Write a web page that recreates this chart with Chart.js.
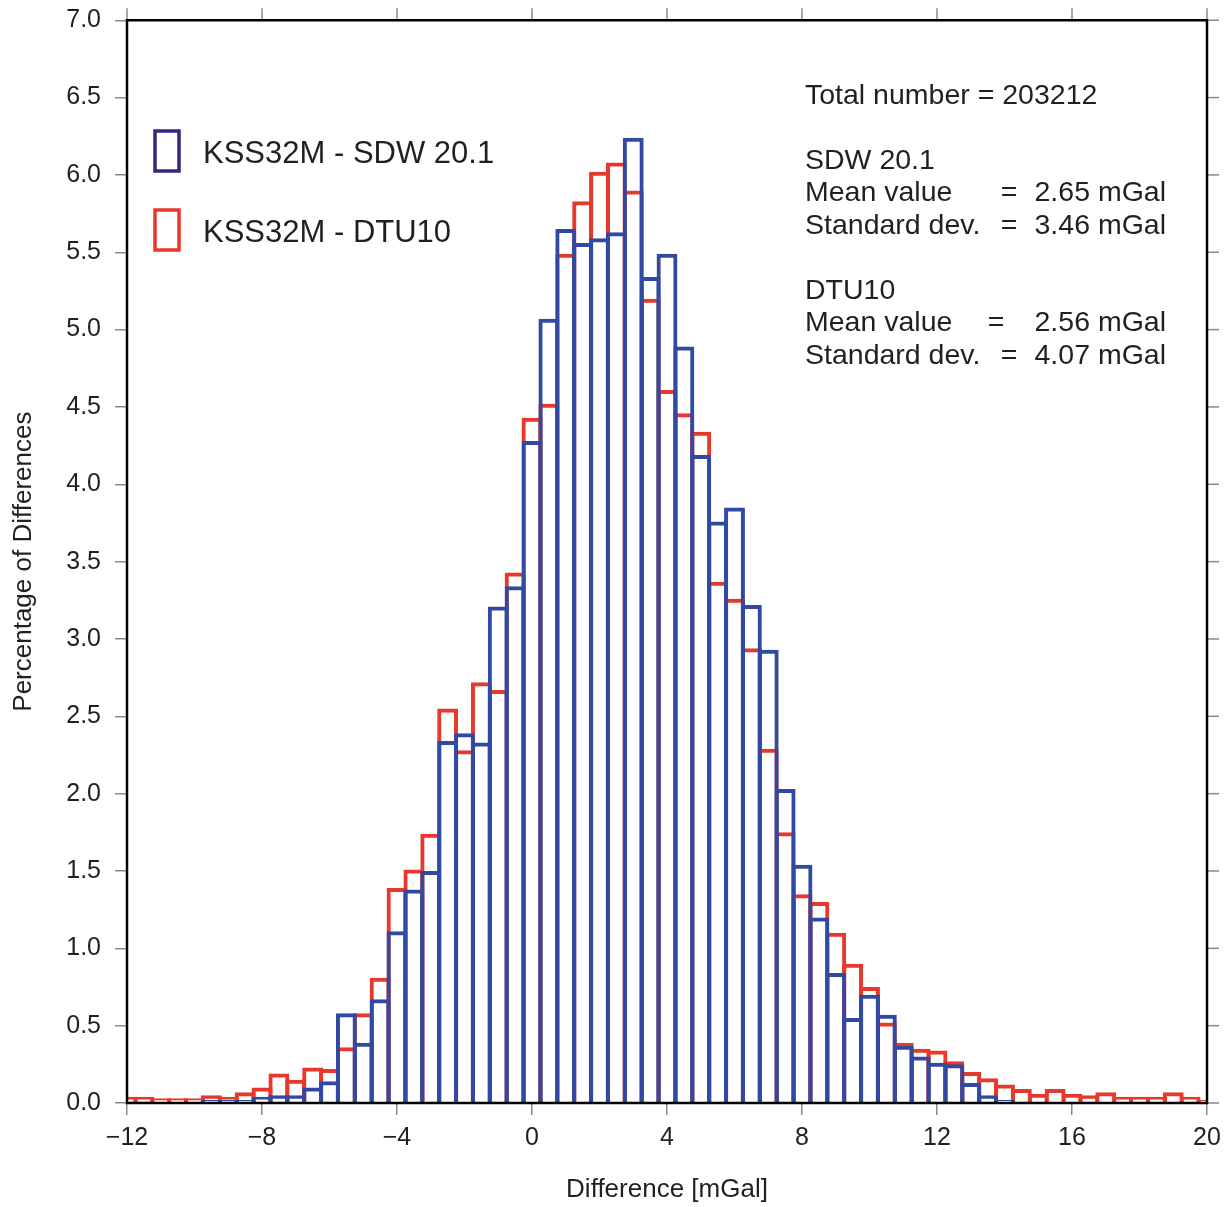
<!DOCTYPE html>
<html>
<head>
<meta charset="utf-8">
<title>KSS32M differences histogram</title>
<script src="https://cdn.jsdelivr.net/npm/chart.js@4.4.1/dist/chart.umd.min.js"></script>
<style>
    html, body { margin: 0; padding: 0; background: #ffffff; }
    #wrap { position: absolute; left: 0; top: 0; width: 1231px; height: 1207px; }
</style>
</head>
<body>
<div id="wrap"><canvas id="histChart" width="1231" height="1207"></canvas></div>
<script>
// ============================================
// DATA - bin centres (mGal) and percentages
// ============================================
const binCenters = [
    -12, -11.5, -11, -10.5, -10, -9.5, -9, -8.5, -8, -7.5, -7, -6.5, -6, -5.5, -5, -4.5,
    -4, -3.5, -3, -2.5, -2, -1.5, -1, -0.5, 0, 0.5, 1, 1.5, 2, 2.5, 3, 3.5,
    4, 4.5, 5, 5.5, 6, 6.5, 7, 7.5, 8, 8.5, 9, 9.5, 10, 10.5, 11, 11.5,
    12, 12.5, 13, 13.5, 14, 14.5, 15, 15.5, 16, 16.5, 17, 17.5, 18, 18.5, 19, 19.5, 20
];

// KSS32M - SDW 20.1
const sdwPercent = [
    0.01, 0.01, 0.00, 0.00, 0.00, 0.02, 0.02, 0.02, 0.04, 0.05, 0.05, 0.10, 0.14, 0.58, 0.39, 0.67,
    1.11, 1.38, 1.50, 2.34, 2.39, 2.33, 3.21, 3.34, 4.28, 5.07, 5.65, 5.56, 5.59, 5.63, 6.24, 5.34,
    5.49, 4.89, 4.19, 3.76, 3.85, 3.22, 2.93, 2.03, 1.54, 1.20, 0.84, 0.55, 0.70, 0.57, 0.37, 0.30,
    0.26, 0.25, 0.13, 0.05, 0.02, 0.00, 0.00, 0.00, 0.00, 0.00, 0.00, 0.00, 0.00, 0.00, 0.00, 0.00, 0.00
];

// KSS32M - DTU10
const dtuPercent = [
    0.04, 0.04, 0.03, 0.03, 0.03, 0.05, 0.04, 0.07, 0.10, 0.19, 0.15, 0.23, 0.22, 0.36, 0.58, 0.81,
    1.39, 1.51, 1.74, 2.55, 2.28, 2.72, 2.67, 3.43, 4.43, 4.52, 5.49, 5.83, 6.02, 6.08, 5.90, 5.20,
    4.61, 4.46, 4.34, 3.37, 3.26, 2.94, 2.29, 1.75, 1.35, 1.30, 1.10, 0.90, 0.75, 0.52, 0.39, 0.35,
    0.34, 0.27, 0.20, 0.16, 0.12, 0.09, 0.06, 0.09, 0.06, 0.05, 0.07, 0.04, 0.04, 0.04, 0.07, 0.04, 0.02
];

const seriesLabels = ['KSS32M - SDW 20.1', 'KSS32M - DTU10'];

const statsLines = [
    { label: 'Total number = 203212' },
    { label: '' },
    { label: 'SDW 20.1' },
    { label: 'Mean value', value: '2.65 mGal' },
    { label: 'Standard dev.', value: '3.46 mGal' },
    { label: '' },
    { label: 'DTU10' },
    { label: 'Mean value', value: '2.56 mGal' },
    { label: 'Standard dev.', value: '4.07 mGal' }
];

// ============================================
// STYLE
// ============================================
const FONT = '"Liberation Sans", Arial, Helvetica, sans-serif';
const BLUE = '#3049a3';
const RED = '#e8372b';
const LEGEND_COLORS = ['#2d2a80', '#e8372b'];
const TEXT = '#231f20';

const toPoints = (vals) => binCenters.map((c, i) => ({ x: c, y: vals[i] }));

// ============================================
// OVERLAY PLUGIN - frame, mirrored ticks, legend, stats
// ============================================
const overlayPlugin = {
    id: 'overlay',
    afterDraw(chart) {
        const ctx = chart.ctx;
        const area = chart.chartArea;
        const xs = chart.scales.x;
        const ys = chart.scales.y;

        ctx.save();

        // mirrored tick marks on top and right
        ctx.strokeStyle = '#8a8a8a';
        ctx.lineWidth = 1.5;
        xs.ticks.forEach(t => {
            const px = xs.getPixelForValue(t.value);
            ctx.beginPath();
            ctx.moveTo(px, area.top);
            ctx.lineTo(px, area.top - 12);
            ctx.stroke();
        });
        ys.ticks.forEach(t => {
            const py = ys.getPixelForValue(t.value);
            ctx.beginPath();
            ctx.moveTo(area.right, py);
            ctx.lineTo(area.right + 12, py);
            ctx.stroke();
        });

        // plot frame
        ctx.strokeStyle = '#000000';
        ctx.lineWidth = 2.5;
        ctx.strokeRect(area.left, area.top, area.right - area.left, area.bottom - area.top);

        // legend
        ctx.font = '31px ' + FONT;
        ctx.textBaseline = 'middle';
        ctx.textAlign = 'left';
        ctx.lineWidth = 3.5;
        const legendRows = [151, 230];
        seriesLabels.forEach((label, i) => {
            const cy = legendRows[i];
            ctx.strokeStyle = LEGEND_COLORS[i];
            ctx.strokeRect(155, cy - 20, 24, 40);
            ctx.fillStyle = TEXT;
            ctx.fillText(label, 203, cy + 3);
        });

        // statistics block
        ctx.font = '28.5px ' + FONT;
        ctx.fillStyle = TEXT;
        const eqX = [null, null, null, 1009, 1009, null, null, 996, 1009];
        statsLines.forEach((line, i) => {
            const y = 96 + i * 32.5;
            ctx.textAlign = 'left';
            ctx.fillText(line.label, 805, y);
            if (line.value) {
                ctx.textAlign = 'center';
                ctx.fillText('=', eqX[i], y);
                ctx.textAlign = 'right';
                ctx.fillText(line.value, 1166, y);
            }
        });

        ctx.restore();
    }
};

// ============================================
// CHART
// ============================================
const barCommon = {
    backgroundColor: 'rgba(0,0,0,0)',
    borderWidth: 4,
    barPercentage: 1.237,
    categoryPercentage: 1,
    grouped: false,
    clip: 0
};

new Chart(document.getElementById('histChart').getContext('2d'), {
    type: 'bar',
    data: {
        datasets: [
            Object.assign({ label: seriesLabels[0], data: toPoints(sdwPercent), borderColor: BLUE }, barCommon),
            Object.assign({ label: seriesLabels[1], data: toPoints(dtuPercent), borderColor: RED }, barCommon)
        ]
    },
    options: {
        responsive: false,
        animation: false,
        layout: { padding: { top: 20, right: 24, left: 0, bottom: 0 } },
        plugins: {
            legend: { display: false },
            tooltip: { enabled: false }
        },
        scales: {
            x: {
                type: 'linear',
                min: -12,
                max: 20,
                offset: false,
                afterFit: (scale) => { scale.height = 104; },
                grid: { drawOnChartArea: false, drawTicks: true, tickLength: 12, color: '#8a8a8a', lineWidth: 1.5, offset: false },
                border: { display: false },
                ticks: {
                    stepSize: 4,
                    padding: 8,
                    color: TEXT,
                    font: { family: FONT, size: 25 },
                    callback: (v) => v < 0 ? '\u2212' + Math.abs(v) : String(v)
                },
                title: {
                    display: true,
                    text: 'Difference [mGal]',
                    color: TEXT,
                    font: { family: FONT, size: 26 },
                    padding: { top: 0, bottom: 2 }
                }
            },
            y: {
                min: 0,
                max: 7,
                afterFit: (scale) => { scale.width = 127; },
                grid: { drawOnChartArea: false, drawTicks: true, tickLength: 12, color: '#8a8a8a', lineWidth: 1.5 },
                border: { display: false },
                ticks: {
                    stepSize: 0.5,
                    padding: 14,
                    color: TEXT,
                    font: { family: FONT, size: 25, lineHeight: 0.5 },
                    callback: (v) => v.toFixed(1)
                },
                title: {
                    display: true,
                    text: 'Percentage of Differences',
                    color: TEXT,
                    font: { family: FONT, size: 26 },
                    padding: { top: 8, bottom: 0 }
                }
            }
        }
    },
    plugins: [overlayPlugin]
});
</script>
</body>
</html>
